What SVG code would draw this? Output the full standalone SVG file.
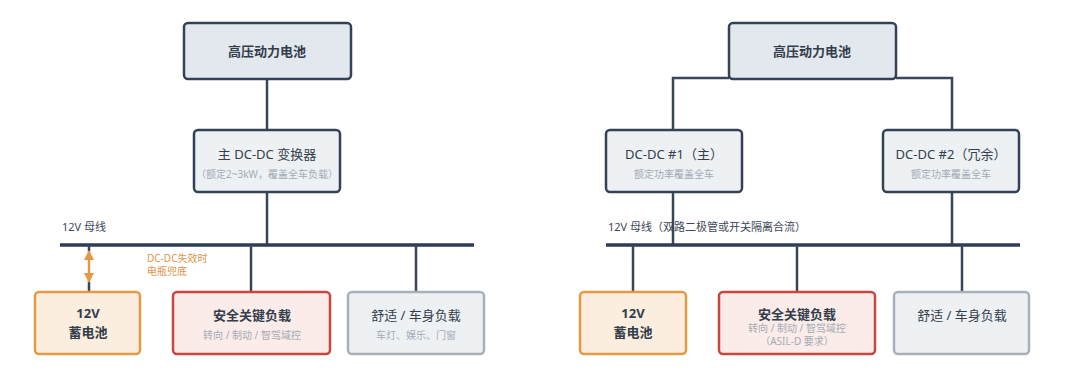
<svg xmlns="http://www.w3.org/2000/svg" width="1080" height="372" viewBox="0 0 1080 372">
<style>
text{font-family:"Noto Sans","Noto Sans CJK SC",sans-serif;text-anchor:middle;}
.hv{fill:#e3e8ee;stroke:#354255;stroke-width:2.5;}
.dc{fill:#eef1f4;stroke:#354255;stroke-width:2.5;}
.bat{fill:#fbeedf;stroke:#e49a45;stroke-width:2.5;}
.safe{fill:#fbecea;stroke:#c9463f;stroke-width:2.5;}
.comf{fill:#eef1f4;stroke:#a8b0b9;stroke-width:2.5;}
.t{font-size:13px;fill:#333d4b;}
.b{font-weight:bold;}
.s{font-size:10px;fill:#a3abb4;}
.w{stroke:#3a4658;stroke-width:2.5;fill:none;}
.bus{stroke:#2d3d55;stroke-width:3.5;}
.lbl{font-size:11px;fill:#3d4757;text-anchor:start;}
.or{font-size:10px;fill:#e0954a;text-anchor:start;}
</style>
<defs>
<marker id="ah" viewBox="0 0 10 10" refX="9" refY="5" markerWidth="4" markerHeight="4" orient="auto-start-reverse"><path d="M0,0L10,5L0,10z" fill="#e49a45"/></marker>
</defs>
<rect width="1080" height="372" fill="#ffffff"/>
<g id="connectors">
<path class="w" d="M267,79V130M267,192V245"/>
<line class="bus" x1="60" y1="245" x2="474" y2="245"/>
<path class="w" d="M89,245V251M89,282V292M251,245V292M416,245V292"/>
<line x1="89" y1="251" x2="89" y2="282" stroke="#e49a45" stroke-width="2.5" marker-start="url(#ah)" marker-end="url(#ah)"/>
<path class="w" d="M729,78H673V130M896,78H952V130M673,192V245M952,192V245"/>
<line class="bus" x1="606" y1="245" x2="1020" y2="245"/>
<path class="w" d="M633,245V292M797,245V292M962,245V292"/>
</g>
<g id="bus-label-left"><text class="lbl" x="62" y="231">12V 母线</text></g>
<g id="note-left"><text class="or" x="147" y="262">DC-DC失效时</text><text class="or" x="147" y="275">电瓶兜底</text></g>
<g id="bus-label-right"><text class="lbl" x="608" y="231">12V 母线（双路二极管或开关隔离合流）</text></g>
<g id="hv-left"><rect class="hv" x="184" y="23" width="167" height="56" rx="4"/><text class="t b" x="267" y="56" font-size="14">高压动力电池</text></g>
<g id="dcdc-main"><rect class="dc" x="194" y="130" width="146" height="62" rx="4"/><text class="t" x="267" y="159">主 DC-DC 变换器</text><text class="s" x="267" y="178">（额定2~3kW，覆盖全车负载）</text></g>
<g id="bat-left"><rect class="bat" x="35" y="292" width="105" height="62" rx="4"/><text class="t b" x="88" y="318">12V</text><text class="t b" x="88" y="337">蓄电池</text></g>
<g id="safe-left"><rect class="safe" x="173" y="292" width="157" height="62" rx="4"/><text class="t b" x="252" y="320">安全关键负载</text><text class="s" x="252" y="339">转向 / 制动 / 智驾域控</text></g>
<g id="comf-left"><rect class="comf" x="348" y="292" width="136" height="62" rx="4"/><text class="t" x="416" y="320">舒适 / 车身负载</text><text class="s" x="416" y="339">车灯、娱乐、门窗</text></g>
<g id="hv-right"><rect class="hv" x="729" y="23" width="167" height="56" rx="4"/><text class="t b" x="812" y="56" font-size="14">高压动力电池</text></g>
<g id="dcdc-1"><rect class="dc" x="606" y="130" width="136" height="62" rx="4"/><text class="t" x="674" y="159">DC-DC #1（主）</text><text class="s" x="674" y="178">额定功率覆盖全车</text></g>
<g id="dcdc-2"><rect class="dc" x="883" y="130" width="136" height="62" rx="4"/><text class="t" x="951" y="159">DC-DC #2（冗余）</text><text class="s" x="951" y="178">额定功率覆盖全车</text></g>
<g id="bat-right"><rect class="bat" x="580" y="292" width="106" height="62" rx="4"/><text class="t b" x="633" y="318">12V</text><text class="t b" x="633" y="337">蓄电池</text></g>
<g id="safe-right"><rect class="safe" x="719" y="292" width="156" height="62" rx="4"/><text class="t b" x="797" y="319">安全关键负载</text><text class="s" x="797" y="332">转向 / 制动 / 智驾域控</text><text class="s" x="797" y="345">（ASIL-D 要求）</text></g>
<g id="comf-right"><rect class="comf" x="894" y="292" width="135" height="62" rx="4"/><text class="t" x="962" y="320">舒适 / 车身负载</text></g>
</svg>
